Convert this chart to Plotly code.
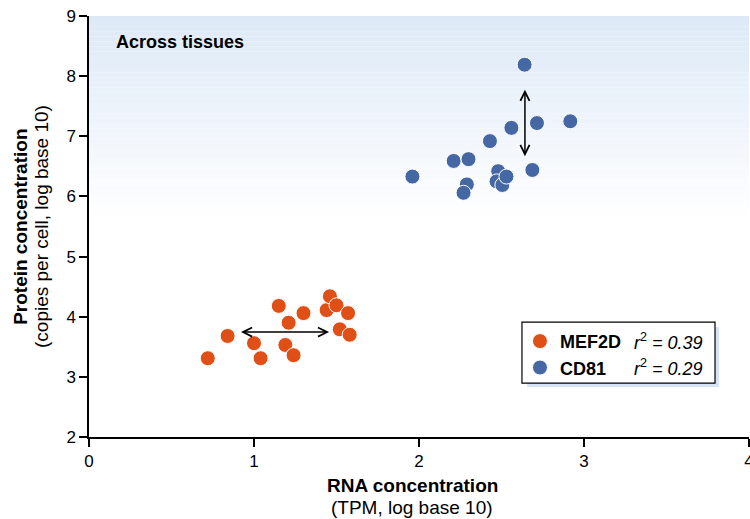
import plotly.graph_objects as go

# ---- data ----
mef2d_rna = [0.72, 0.84, 1.00, 1.04, 1.15, 1.19, 1.21, 1.24, 1.30, 1.44, 1.46, 1.50, 1.52, 1.57, 1.58]
mef2d_protein = [3.31, 3.68, 3.56, 3.31, 4.18, 3.53, 3.90, 3.36, 4.06, 4.11, 4.34, 4.19, 3.79, 4.06, 3.70]
cd81_rna = [1.96, 2.21, 2.30, 2.29, 2.27, 2.43, 2.48, 2.47, 2.505, 2.53, 2.56, 2.64, 2.715, 2.687, 2.917]
cd81_protein = [6.33, 6.59, 6.62, 6.20, 6.06, 6.92, 6.42, 6.25, 6.19, 6.33, 7.14, 8.19, 7.22, 6.44, 7.25]
series_names = ["MEF2D", "CD81"]
r2_labels = ["0.39", "0.29"]
x_ticks = [0, 1, 2, 3, 4]
y_ticks = [2, 3, 4, 5, 6, 7, 8, 9]
# arrow annotations (data units): [x_start, y_start, x_end, y_end]
h_arrow = [0.90, 3.745, 1.455, 3.745]
v_arrow = [2.642, 7.94, 2.642, 6.67]

ORANGE = "#E04F16"
BLUE = "#4568A5"
FONT = "Liberation Sans, Arial, Helvetica, sans-serif"

fig = go.Figure()

fig.add_trace(go.Scatter(
    x=mef2d_rna, y=mef2d_protein, mode="markers", name="<b>%s</b>" % series_names[0],
    marker=dict(size=15, color=ORANGE, line=dict(color="white", width=1)),
))
fig.add_trace(go.Scatter(
    x=cd81_rna, y=cd81_protein, mode="markers", name="<b>%s</b>" % series_names[1],
    marker=dict(size=15, color=BLUE, line=dict(color="white", width=1)),
))

shapes = []
# background gradient from top (y=9) fading to white near y=5.6
n = 40
g_top, g_bot = 9.0, 5.6
c0 = (221, 233, 246)
for i in range(n):
    t0 = g_top - (g_top - g_bot) * i / n
    t1 = g_top - (g_top - g_bot) * (i + 1) / n
    f = (i + 0.5) / n
    col = tuple(round(c0[k] + (255 - c0[k]) * f) for k in range(3))
    shapes.append(dict(type="rect", xref="paper", yref="y", x0=0, x1=1, y0=t1, y1=t0,
                       fillcolor="rgb(%d,%d,%d)" % col, line=dict(width=0), layer="below"))

# legend box with shadow
shapes.append(dict(type="rect", xref="paper", yref="paper", x0=0.6636, x1=0.9545, y0=0.119, y1=0.261,
                   fillcolor="rgb(214,228,245)", line=dict(width=0), layer="above"))
shapes.append(dict(type="rect", xref="paper", yref="paper", x0=0.656, x1=0.9485, y0=0.128, y1=0.273,
                   fillcolor="white", line=dict(color="black", width=1.2), layer="above"))

annotations = [
    dict(text="<b>Across tissues</b>", xref="paper", yref="paper", x=0.038, y=0.938,
         xanchor="left", yanchor="middle", showarrow=False, font=dict(size=18, color="black")),
    dict(text="<b>RNA concentration</b>", xref="paper", yref="paper", x=0.49, y=-0.115,
         xanchor="center", yanchor="middle", showarrow=False, font=dict(size=19, color="black")),
    dict(text="(TPM, log base 10)", xref="paper", yref="paper", x=0.49, y=-0.168,
         xanchor="center", yanchor="middle", showarrow=False, font=dict(size=19, color="black")),
    dict(text="<b>Protein concentration</b>", xref="paper", yref="paper", x=-0.104, y=0.5,
         xanchor="center", yanchor="middle", textangle=-90, showarrow=False,
         font=dict(size=19, color="black")),
    dict(text="(copies per cell, log base 10)", xref="paper", yref="paper", x=-0.072, y=0.5,
         xanchor="center", yanchor="middle", textangle=-90, showarrow=False,
         font=dict(size=19, color="black")),
]
for yy, r2 in zip([0.228, 0.166], r2_labels):
    annotations.append(dict(text="<i>r</i><sup>2</sup><i> = %s</i>" % r2, xref="paper", yref="paper",
                            x=0.823, y=yy, xanchor="left", yanchor="middle", showarrow=False,
                            font=dict(size=18, color="black")))
for arr in (h_arrow, v_arrow):
    annotations.append(dict(x=arr[2], y=arr[3], ax=arr[0], ay=arr[1], xref="x", yref="y",
                            axref="x", ayref="y", text=" ", showarrow=True, arrowhead=5,
                            startarrowhead=5, arrowside="end+start", arrowsize=1.2,
                            startarrowsize=1.2, arrowwidth=1.5, arrowcolor="black"))

fig.update_layout(
    width=750, height=519,
    margin=dict(l=89, r=1, t=16, b=82, autoexpand=False),
    paper_bgcolor="white", plot_bgcolor="white",
    font=dict(family=FONT, size=16, color="black"),
    shapes=shapes, annotations=annotations,
    showlegend=True,
    legend=dict(x=0.653, y=0.271, xanchor="left", yanchor="top", bgcolor="rgba(0,0,0,0)",
                borderwidth=0, font=dict(size=18, color="black"), itemclick=False),
    xaxis=dict(range=[0, 4], tickvals=x_ticks, showgrid=False, zeroline=False,
               showline=True, linecolor="black", linewidth=1.5, ticks="outside",
               ticklen=8, tickwidth=1.5, tickcolor="black", tickfont=dict(size=17),
               ticklabeloverflow="allow", automargin=False),
    yaxis=dict(range=[2, 9], tickvals=y_ticks, showgrid=False, zeroline=False,
               showline=True, linecolor="black", linewidth=1.5, ticks="outside",
               ticklen=8, tickwidth=1.5, tickcolor="black", tickfont=dict(size=17),
               automargin=False),
)

fig.write_html("out.html", config={"displayModeBar": False},
               post_script="document.body.style.margin='0px';")
